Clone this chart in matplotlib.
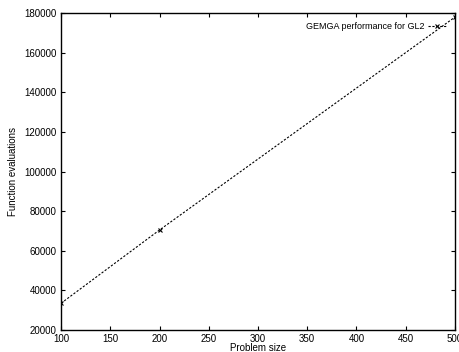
import matplotlib
matplotlib.use("Agg")
import matplotlib.pyplot as plt

font = {'size': 7, 'family': ['Liberation Sans', 'DejaVu Sans']}
matplotlib.rc('font', **font)

problem_size = [100, 200, 500]
evaluations = [33500, 70500, 178000]
xticks = [100, 150, 200, 250, 300, 350, 400, 450, 500]
yticks = [20000, 40000, 60000, 80000, 100000, 120000, 140000, 160000, 180000]

fig = plt.figure(figsize=(4.59, 3.52), dpi=100)
ax = fig.add_axes([0.133, 0.0625, 0.858, 0.9])
ax.plot(problem_size, evaluations, color='black', linestyle=(0, (2, 1.5)), linewidth=0.8,
        marker='x', markersize=3.5, markeredgewidth=0.8, label='GEMGA performance for GL2')
ax.set_xlim(100, 500)
ax.set_ylim(20000, 180000)
ax.set_xticks(xticks)
ax.set_yticks(yticks)
ax.tick_params(direction='in', top=True, right=True, length=3, width=0.8, pad=3)
for s in ax.spines.values():
    s.set_linewidth(1.0)
ax.set_xlabel("Problem size", labelpad=-1)
ax.set_ylabel("Function evaluations", labelpad=5)
ax.legend(loc='upper right', frameon=False, markerfirst=False, handlelength=2.0,
          borderaxespad=0.6, handletextpad=0.4, fontsize=6.5)
fig.savefig('out.png', dpi=100)
